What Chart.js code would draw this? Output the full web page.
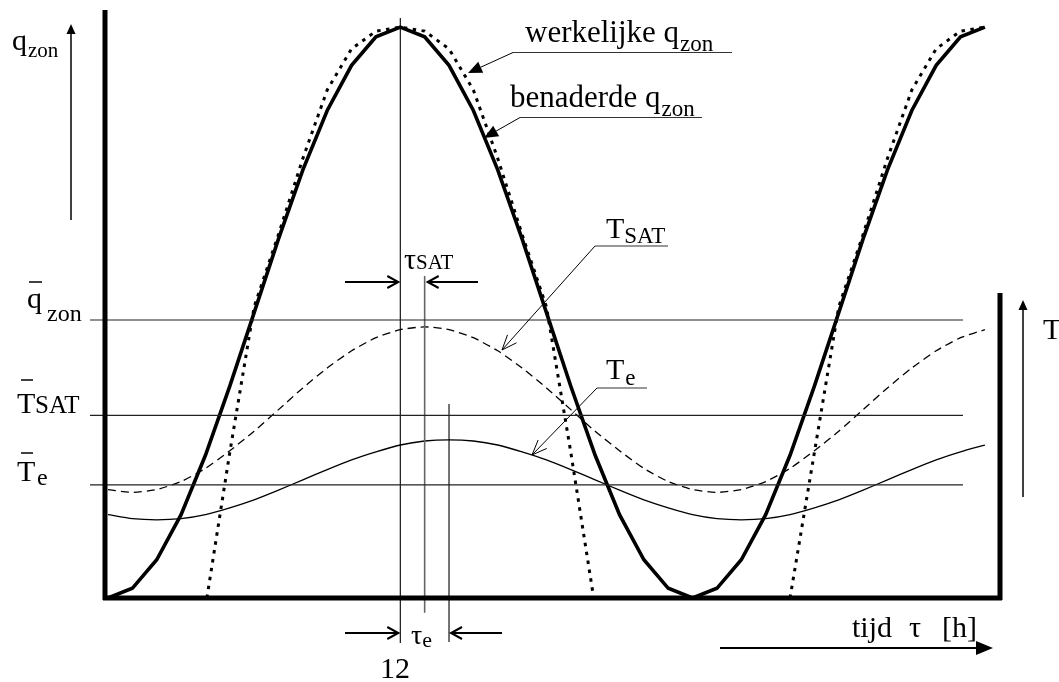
<!DOCTYPE html>
<html>
<head>
<meta charset="utf-8">
<script src="https://cdn.jsdelivr.net/npm/chart.js@4.4.0/dist/chart.umd.min.js"></script>
<style>
  html, body { margin: 0; padding: 0; background: #fff; }
</style>
</head>
<body>
<canvas id="zon" width="1059" height="682"></canvas>
<script>
// tijd in uren, anderhalve dag
const uren = [0, 1, 2, 3, 4, 5, 6, 7, 8, 9, 10, 11, 12, 13, 14, 15, 16, 17, 18,
  19, 20, 21, 22, 23, 24, 25, 26, 27, 28, 29, 30, 31, 32, 33, 34, 35, 36];

// benaderde zonnestraling (relatief t.o.v. het maximum)
const qBenaderd = [0, 0.017, 0.067, 0.146, 0.25, 0.371, 0.5, 0.629, 0.75, 0.854, 0.933, 0.983, 1,
  0.983, 0.933, 0.854, 0.75, 0.629, 0.5, 0.371, 0.25, 0.146, 0.067, 0.017, 0,
  0.017, 0.067, 0.146, 0.25, 0.371, 0.5, 0.629, 0.75, 0.854, 0.933, 0.983, 1];

// werkelijke zonnestraling, 's nachts nul
const urenWerkelijk = [4.06, 5, 6, 7, 8, 9, 10, 11, 12, 13, 14, 15, 16, 17, 18, 19, 19.94,
  24, 28, 29, 30, 31, 32, 33, 34, 35, 36];
const qWerkelijk = [0, 0.255, 0.51, 0.637, 0.77, 0.89, 0.962, 0.993, 1, 0.993, 0.962, 0.89, 0.77, 0.637, 0.51, 0.255, 0,
  null, 0, 0.255, 0.51, 0.637, 0.77, 0.89, 0.962, 0.993, 1];

// zonluchttemperatuur en buitentemperatuur (zelfde schaal)
const tSat = [0.19, 0.185, 0.19, 0.204, 0.227, 0.258, 0.292, 0.33, 0.368, 0.403, 0.433, 0.456, 0.47,
  0.475, 0.47, 0.456, 0.433, 0.403, 0.368, 0.33, 0.292, 0.258, 0.227, 0.204, 0.19,
  0.185, 0.19, 0.204, 0.227, 0.258, 0.292, 0.33, 0.368, 0.403, 0.433, 0.456, 0.47];
const tE = [0.146, 0.139, 0.137, 0.139, 0.146, 0.158, 0.172, 0.189, 0.207, 0.225, 0.242, 0.256, 0.268,
  0.275, 0.277, 0.275, 0.268, 0.256, 0.242, 0.225, 0.207, 0.189, 0.172, 0.158, 0.146,
  0.139, 0.137, 0.139, 0.146, 0.158, 0.172, 0.189, 0.207, 0.225, 0.242, 0.256, 0.268];

// gemiddelden: q_zon, T_SAT, T_e
const gemiddelden = [0.487, 0.32, 0.198];
const gemBereik = [-0.74, 35.1];

// tijdstippen van de maxima (q_zon, T_SAT, T_e) en lengte van de hulplijnen
const faseUren = [12, 13, 14];
const faseBoven = [1.016, 0.564, 0.34];
const faseOnder = [-0.079, -0.026, -0.077];

const FONT = '"Liberation Serif", "Times New Roman", serif';

function punten(xs, ys) {
  return xs.map((x, i) => ({ x: x, y: ys[i] }));
}

function tekst(ctx, s, x, y, size) {
  ctx.font = size + 'px ' + FONT;
  ctx.fillText(s, x, y);
  return x + ctx.measureText(s).width;
}

function lijn(ctx, x1, y1, x2, y2, w, kleur) {
  ctx.beginPath();
  ctx.lineWidth = w;
  ctx.strokeStyle = kleur || '#000';
  ctx.moveTo(x1, y1);
  ctx.lineTo(x2, y2);
  ctx.stroke();
}

// pijl van (x1,y1) naar (x2,y2); dicht = gevulde punt
function pijl(ctx, x1, y1, x2, y2, lengte, breedte, dicht, w) {
  const a = Math.atan2(y2 - y1, x2 - x1);
  const bx = x2 - lengte * Math.cos(a), by = y2 - lengte * Math.sin(a);
  const px = -Math.sin(a) * breedte, py = Math.cos(a) * breedte;
  ctx.lineCap = 'butt';
  if (dicht) {
    lijn(ctx, x1, y1, bx, by, w);
    ctx.beginPath();
    ctx.fillStyle = '#000';
    ctx.moveTo(x2, y2);
    ctx.lineTo(bx + px, by + py);
    ctx.lineTo(bx - px, by - py);
    ctx.closePath();
    ctx.fill();
  } else {
    lijn(ctx, x1, y1, x2, y2, w);
    ctx.beginPath();
    ctx.moveTo(bx + px, by + py);
    ctx.lineTo(x2, y2);
    ctx.lineTo(bx - px, by - py);
    ctx.stroke();
  }
}

const schema = {
  id: 'schema',
  afterDraw(chart) {
    const ctx = chart.ctx;
    const xs = chart.scales.x, ys = chart.scales.y;
    const ca = chart.chartArea;
    const nul = ys.getPixelForValue(0);
    ctx.save();

    // kader
    lijn(ctx, ca.left - 3, ca.top, ca.left - 3, nul + 2, 5);
    lijn(ctx, ca.left - 5, nul, ca.right + 2, nul, 5);
    lijn(ctx, ca.right, 293, ca.right, nul + 2, 5);

    // assen-pijlen
    pijl(ctx, 71, 220, 71, 24, 10, 4.5, true, 1.5);
    pijl(ctx, 1023, 497, 1023, 300, 10, 4.5, true, 1.5);
    pijl(ctx, 720, 648, 993, 648, 17, 7, true, 2);

    // faseverschuivingen
    const x12 = xs.getPixelForValue(faseUren[0]);
    const x13 = xs.getPixelForValue(faseUren[1]);
    const x14 = xs.getPixelForValue(faseUren[2]);
    pijl(ctx, 345, 282, x12 - 2, 282, 11, 6, false, 2);
    pijl(ctx, 478, 282, x13 + 3, 282, 11, 6, false, 2);
    pijl(ctx, 345, 633, x12 - 2, 633, 11, 6, false, 2);
    pijl(ctx, 502, 633, x14 + 2, 633, 11, 6, false, 2);

    // verwijzingen
    lijn(ctx, 513, 52.5, 732, 52.5, 1.2, '#333');
    pijl(ctx, 513, 52.5, 468, 73, 14, 6, true, 1);
    lijn(ctx, 520, 117.5, 702, 117.5, 1.2, '#333');
    pijl(ctx, 520, 117.5, 484, 138, 14, 6, true, 1);
    lijn(ctx, 595, 246, 668, 246, 1.2, '#333');
    pijl(ctx, 595, 246, 502, 350, 15, 6, false, 1);
    lijn(ctx, 597, 388, 647, 388, 1.2, '#333');
    pijl(ctx, 597, 388, 532, 455, 15, 6, false, 1);

    // teksten
    ctx.fillStyle = '#000';
    ctx.textBaseline = 'alphabetic';
    let e;
    e = tekst(ctx, 'q', 12, 50, 30); tekst(ctx, 'zon', e + 1, 57, 21);
    e = tekst(ctx, 'werkelijke q', 525, 42, 31); tekst(ctx, 'zon', e + 1, 51, 23);
    e = tekst(ctx, 'benaderde q', 510, 107, 31); tekst(ctx, 'zon', e + 1, 116, 23);
    e = tekst(ctx, 'T', 606, 238, 30); tekst(ctx, 'SAT', e, 243, 23);
    e = tekst(ctx, 'T', 606, 379, 30); tekst(ctx, 'e', e + 1, 385, 23);
    e = tekst(ctx, 'τ', 404, 269, 30); tekst(ctx, 'SAT', e, 269, 21);
    e = tekst(ctx, 'τ', 411, 644, 28); tekst(ctx, 'e', e, 647, 22);
    ctx.textAlign = 'center';
    tekst(ctx, '12', 395, 678, 30);
    ctx.textAlign = 'left';

    tekst(ctx, 'q', 27, 308, 30); tekst(ctx, 'zon', 47, 321, 24);
    tekst(ctx, 'T', 17, 413, 30); tekst(ctx, 'SAT', 35, 413, 25);
    tekst(ctx, 'T', 17, 481, 30); tekst(ctx, 'e', 37, 485, 24);
    lijn(ctx, 29, 282, 42, 282, 1.5);
    lijn(ctx, 21, 380, 33, 380, 1.5);
    lijn(ctx, 21, 453, 33, 453, 1.5);

    tekst(ctx, 'T', 1043, 339, 30);
    tekst(ctx, 'tijd', 852, 637, 30);
    tekst(ctx, 'τ', 909, 637, 30);
    tekst(ctx, '[h]', 942, 637, 30);

    ctx.restore();
  }
};

const datasets = [];

gemiddelden.forEach((g) => {
  datasets.push({
    data: punten(gemBereik, [g, g]),
    borderColor: '#222', borderWidth: 1.2, clip: false
  });
});

faseUren.forEach((u, i) => {
  datasets.push({
    data: punten([u, u], [faseBoven[i], faseOnder[i]]),
    borderColor: i === 1 ? '#666' : '#000', borderWidth: i === 1 ? 1.6 : 1.1, clip: false
  });
});

datasets.push({
  label: 'T_e',
  data: punten(uren, tE),
  borderColor: '#000', borderWidth: 1.3, tension: 0.2
});
datasets.push({
  label: 'T_SAT',
  data: punten(uren, tSat),
  borderColor: '#000', borderWidth: 1.3, borderDash: [8, 5], tension: 0.2
});
datasets.push({
  label: 'werkelijke q_zon',
  data: punten(urenWerkelijk, qWerkelijk),
  borderColor: '#000', borderWidth: 3, borderDash: [3.5, 5.5], spanGaps: false
});
datasets.push({
  label: 'benaderde q_zon',
  data: punten(uren, qBenaderd),
  borderColor: '#000', borderWidth: 3.6, borderJoinStyle: 'miter'
});

new Chart(document.getElementById('zon').getContext('2d'), {
  type: 'line',
  data: { datasets: datasets },
  options: {
    responsive: false,
    animation: false,
    parsing: true,
    elements: { point: { radius: 0, hoverRadius: 0 } },
    layout: { padding: { left: 108, right: 59, top: 10, bottom: 84 } },
    scales: {
      x: { type: 'linear', min: 0, max: 36.62, display: false },
      y: { min: 0, max: 1.03, display: false }
    },
    plugins: { legend: { display: false }, tooltip: { enabled: false } }
  },
  plugins: [schema]
});
</script>
</body>
</html>
